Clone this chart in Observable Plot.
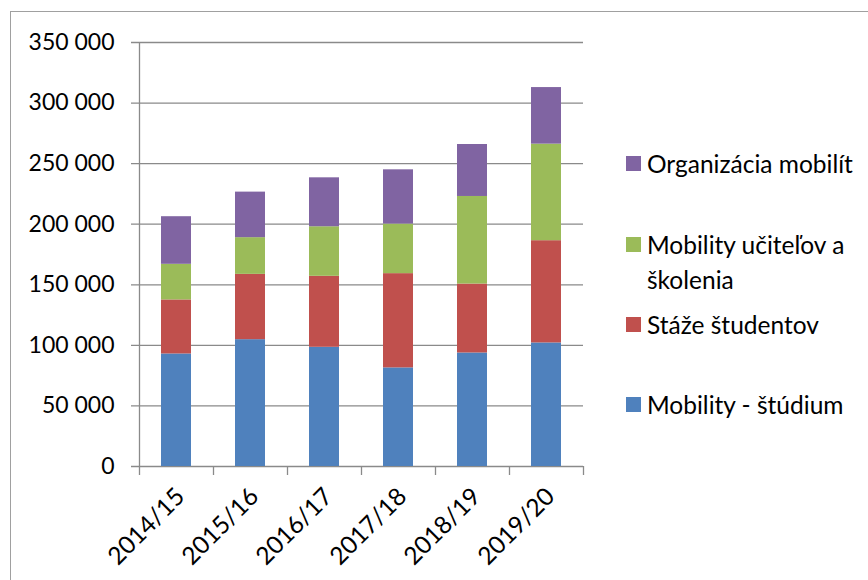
<!DOCTYPE html>
<html>
<head>
<meta charset="utf-8">
<script src="https://cdn.jsdelivr.net/npm/d3@7"></script>
<script src="https://cdn.jsdelivr.net/npm/@observablehq/plot@0.6"></script>
<style>
  html, body { margin: 0; padding: 0; background: #fff; }
  #wrap { position: relative; width: 868px; height: 580px; overflow: hidden; font-family: Lato, "Open Sans", sans-serif; }
  #frame { position: absolute; left: 10px; top: 11px; right: -5px; bottom: -5px; border-top: 1.5px solid #a0a0a0; border-left: 1.5px solid #a0a0a0; }
  #chart { position: absolute; left: 0; top: 0; }
  #legend { position: absolute; left: 626px; top: 0; font-size: 24.5px; color: #000; }
  .item { position: absolute; left: 0; white-space: nowrap; line-height: 35px; }
  .sw { position: absolute; left: 0; width: 15px; height: 15px; }
  .lab { position: absolute; left: 21px; }
</style>
</head>
<body>
<div id="wrap">
  <div id="frame"></div>
  <div id="chart"></div>
  <div id="legend"></div>
</div>
<script>
// ---- data ----
const categories = ["2014/15", "2015/16", "2016/17", "2017/18", "2018/19", "2019/20"];
const seriesNames = ["Mobility - štúdium", "Stáže študentov", "Mobility učiteľov a školenia", "Organizácia mobilít"];
const seriesColors = ["#4F81BD", "#C0504D", "#9BBB59", "#8064A2"];
const studium      = [92900, 104700, 98400, 81400, 93700, 102000];
const staze        = [44600, 53900, 58600, 77800, 56900, 84400];
const ucitelia     = [29400, 30300, 40900, 40900, 72300, 79700];
const organizacia  = [39300, 37600, 40400, 44800, 42900, 46700];
const yTicks = [0, 50000, 100000, 150000, 200000, 250000, 300000, 350000];

const seriesValues = [studium, staze, ucitelia, organizacia];
const table = [];
categories.forEach((c, i) => {
  seriesValues.forEach((vals, s) => {
    table.push({category: c, series: seriesNames[s], value: vals[i]});
  });
});

const W = 868, H = 580;
const mL = 139, mR = 285, mT = 42, mB = 114;
const step = (W - mL - mR) / categories.length;
const fmt = v => d3.format(",")(v).replace(/,/g, " ");
const gridColor = "#8a8a8a";

const chart = Plot.plot({
  width: W,
  height: H,
  marginLeft: mL,
  marginRight: mR,
  marginTop: mT,
  marginBottom: mB,
  style: {fontFamily: "Lato, 'Open Sans', sans-serif", fontSize: "23px", color: "#000", background: "transparent"},
  x: {domain: categories, paddingInner: 0.6, paddingOuter: 0.3, axis: null, label: null},
  y: {domain: [0, 350000], axis: null, label: null},
  color: {domain: seriesNames, range: seriesColors},
  marks: [
    Plot.gridY(yTicks, {stroke: gridColor, strokeOpacity: 1, strokeWidth: 1.3, insetLeft: -8}),
    Plot.barY(table, {x: "category", y: "value", fill: "series", order: seriesNames}),
    // left axis line (extends below as first category tick)
    Plot.ruleX([categories[0]], {x: d => d, y1: 350000, y2: 0, dx: -step / 2, insetBottom: -9, stroke: gridColor, strokeWidth: 1.3}),
    // category boundary ticks
    Plot.ruleX(categories.slice(1), {x: d => d, y1: 0, y2: 0, dx: -step / 2, insetBottom: -9, stroke: gridColor, strokeWidth: 1.3}),
    Plot.ruleX([categories[categories.length - 1]], {x: d => d, y1: 0, y2: 0, dx: step / 2, insetBottom: -9, stroke: gridColor, strokeWidth: 1.3}),
    Plot.axisY(yTicks, {tickFormat: fmt, tickSize: 0, tickPadding: 25, fontSize: 23, fill: "#000", label: null}),
    Plot.axisX(categories, {tickRotate: -45, tickSize: 0, tickPadding: 26, dx: 4, fontSize: 24.5, fill: "#000", label: null})
  ]
});
document.getElementById("chart").appendChild(chart);

// ---- legend (top-to-bottom reversed, as in the reference) ----
const legendRows = [
  {s: 3, y: 163},
  {s: 2, y: 244},
  {s: 1, y: 324},
  {s: 0, y: 404}
];
const legend = document.getElementById("legend");
legendRows.forEach(r => {
  const item = document.createElement("div");
  item.className = "item";
  const sw = document.createElement("div");
  sw.className = "sw";
  sw.style.background = seriesColors[r.s];
  sw.style.top = (r.y - 7.5) + "px";
  const lab = document.createElement("div");
  lab.className = "lab";
  lab.style.top = (r.y - 17.5) + "px";
  if (r.s === 2) {
    lab.innerHTML = "Mobility učiteľov a<br>školenia";
  } else {
    lab.textContent = seriesNames[r.s];
  }
  item.appendChild(sw);
  item.appendChild(lab);
  legend.appendChild(item);
});
</script>
</body>
</html>
